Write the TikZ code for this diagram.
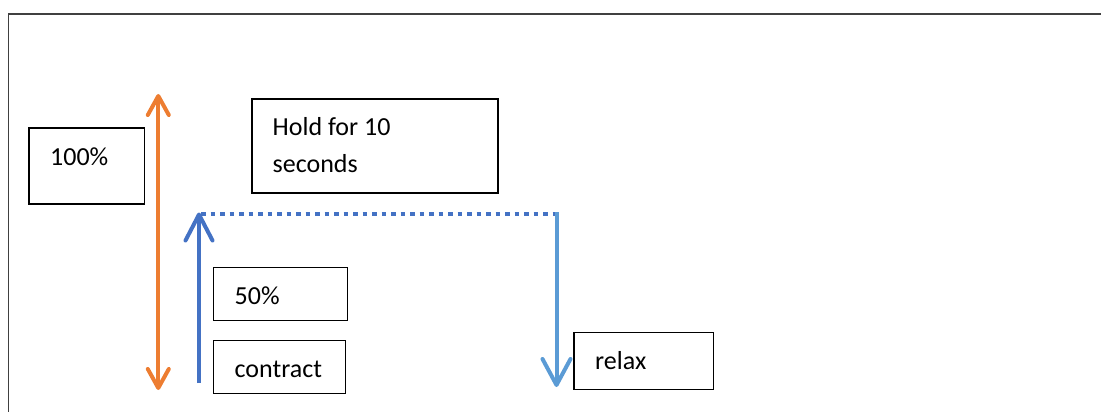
\documentclass[tikz,border=0pt]{standalone}
\usepackage{fontspec}
\setmainfont{Carlito}
\usetikzlibrary{arrows.meta}
\definecolor{frameGray}{HTML}{404040}
\definecolor{officeOrange}{HTML}{ED7D31}
\definecolor{officeBlue}{HTML}{4472C4}
\definecolor{lightBlue}{HTML}{5B9BD5}
\tikzset{
  box/.style={draw=black, line width=1.2pt, rectangle, inner sep=0pt},
  txt/.style={inner sep=0pt, font=\fontsize{26}{37}\selectfont, align=left},
  barb/.style={Straight Barb[length=#1, width=#1, round]},
  flow/.style={line width=4pt},
}
\begin{document}
\begin{tikzpicture}[x=1pt,y=-1pt]
  \useasboundingbox (0,0) rectangle (1101,412);
  % frame (only top and left edges are inside the page)
  \draw[frameGray, line width=1.4pt] (8.5,412) -- (8.5,14) -- (1101,14);

  % boxes
  \node[box, minimum width=115.5pt, minimum height=76pt] (b100) at (86.8,166) {};
  \node[txt, anchor=base west] (t100) at (50,165) {100\%};

  \node[box, minimum width=246pt, minimum height=94pt] (bhold) at (375,146) {};
  \node[txt, anchor=base west] (thold1) at (272.5,135.5) {Hold for 10};
  \node[txt, anchor=base west] (thold2) at (272.5,172.5) {seconds};

  \node[box, minimum width=134pt, minimum height=52.6pt] (b50) at (280.3,294) {};
  \node[txt, anchor=base west] (t50) at (234.5,304) {50\%};

  \node[box, minimum width=132.4pt, minimum height=52.6pt] (bcon) at (279.5,367) {};
  \node[txt, anchor=base west] (tcon) at (234.5,377) {contract};

  \node[box, minimum width=139.7pt, minimum height=57pt] (brel) at (643.8,360.8) {};
  \node[txt, anchor=base west] (trel) at (595,369) {relax};

  % arrow end points
  \coordinate (oTop) at (158.3,94);
  \coordinate (oBot) at (158.3,390);
  \coordinate (cBot) at (199,383);
  \coordinate (cTop) at (199,212.5);
  \coordinate (hStart) at (201,214);
  \coordinate (hEnd) at (556.5,214);
  \coordinate (rTop) at (556.5,212);
  \coordinate (rBot) at (556.5,387);

  % range arrow
  \draw[flow, officeOrange, {Straight Barb[length=19pt, width=21pt, round]}-{Straight Barb[length=19pt, width=21pt, round]}] (oBot) -- (oTop);
  % contract arrow
  \draw[flow, officeBlue, -{Straight Barb[length=26pt, width=27pt, round]}] (cBot) -- (cTop);
  % hold line
  \draw[officeBlue, line width=4pt, dash pattern=on 4.5pt off 5pt] (hStart) -- (hEnd);
  % relax arrow
  \draw[flow, lightBlue, -{Straight Barb[length=26pt, width=28pt, round]}] (rTop) -- (rBot);
\end{tikzpicture}
\end{document}
